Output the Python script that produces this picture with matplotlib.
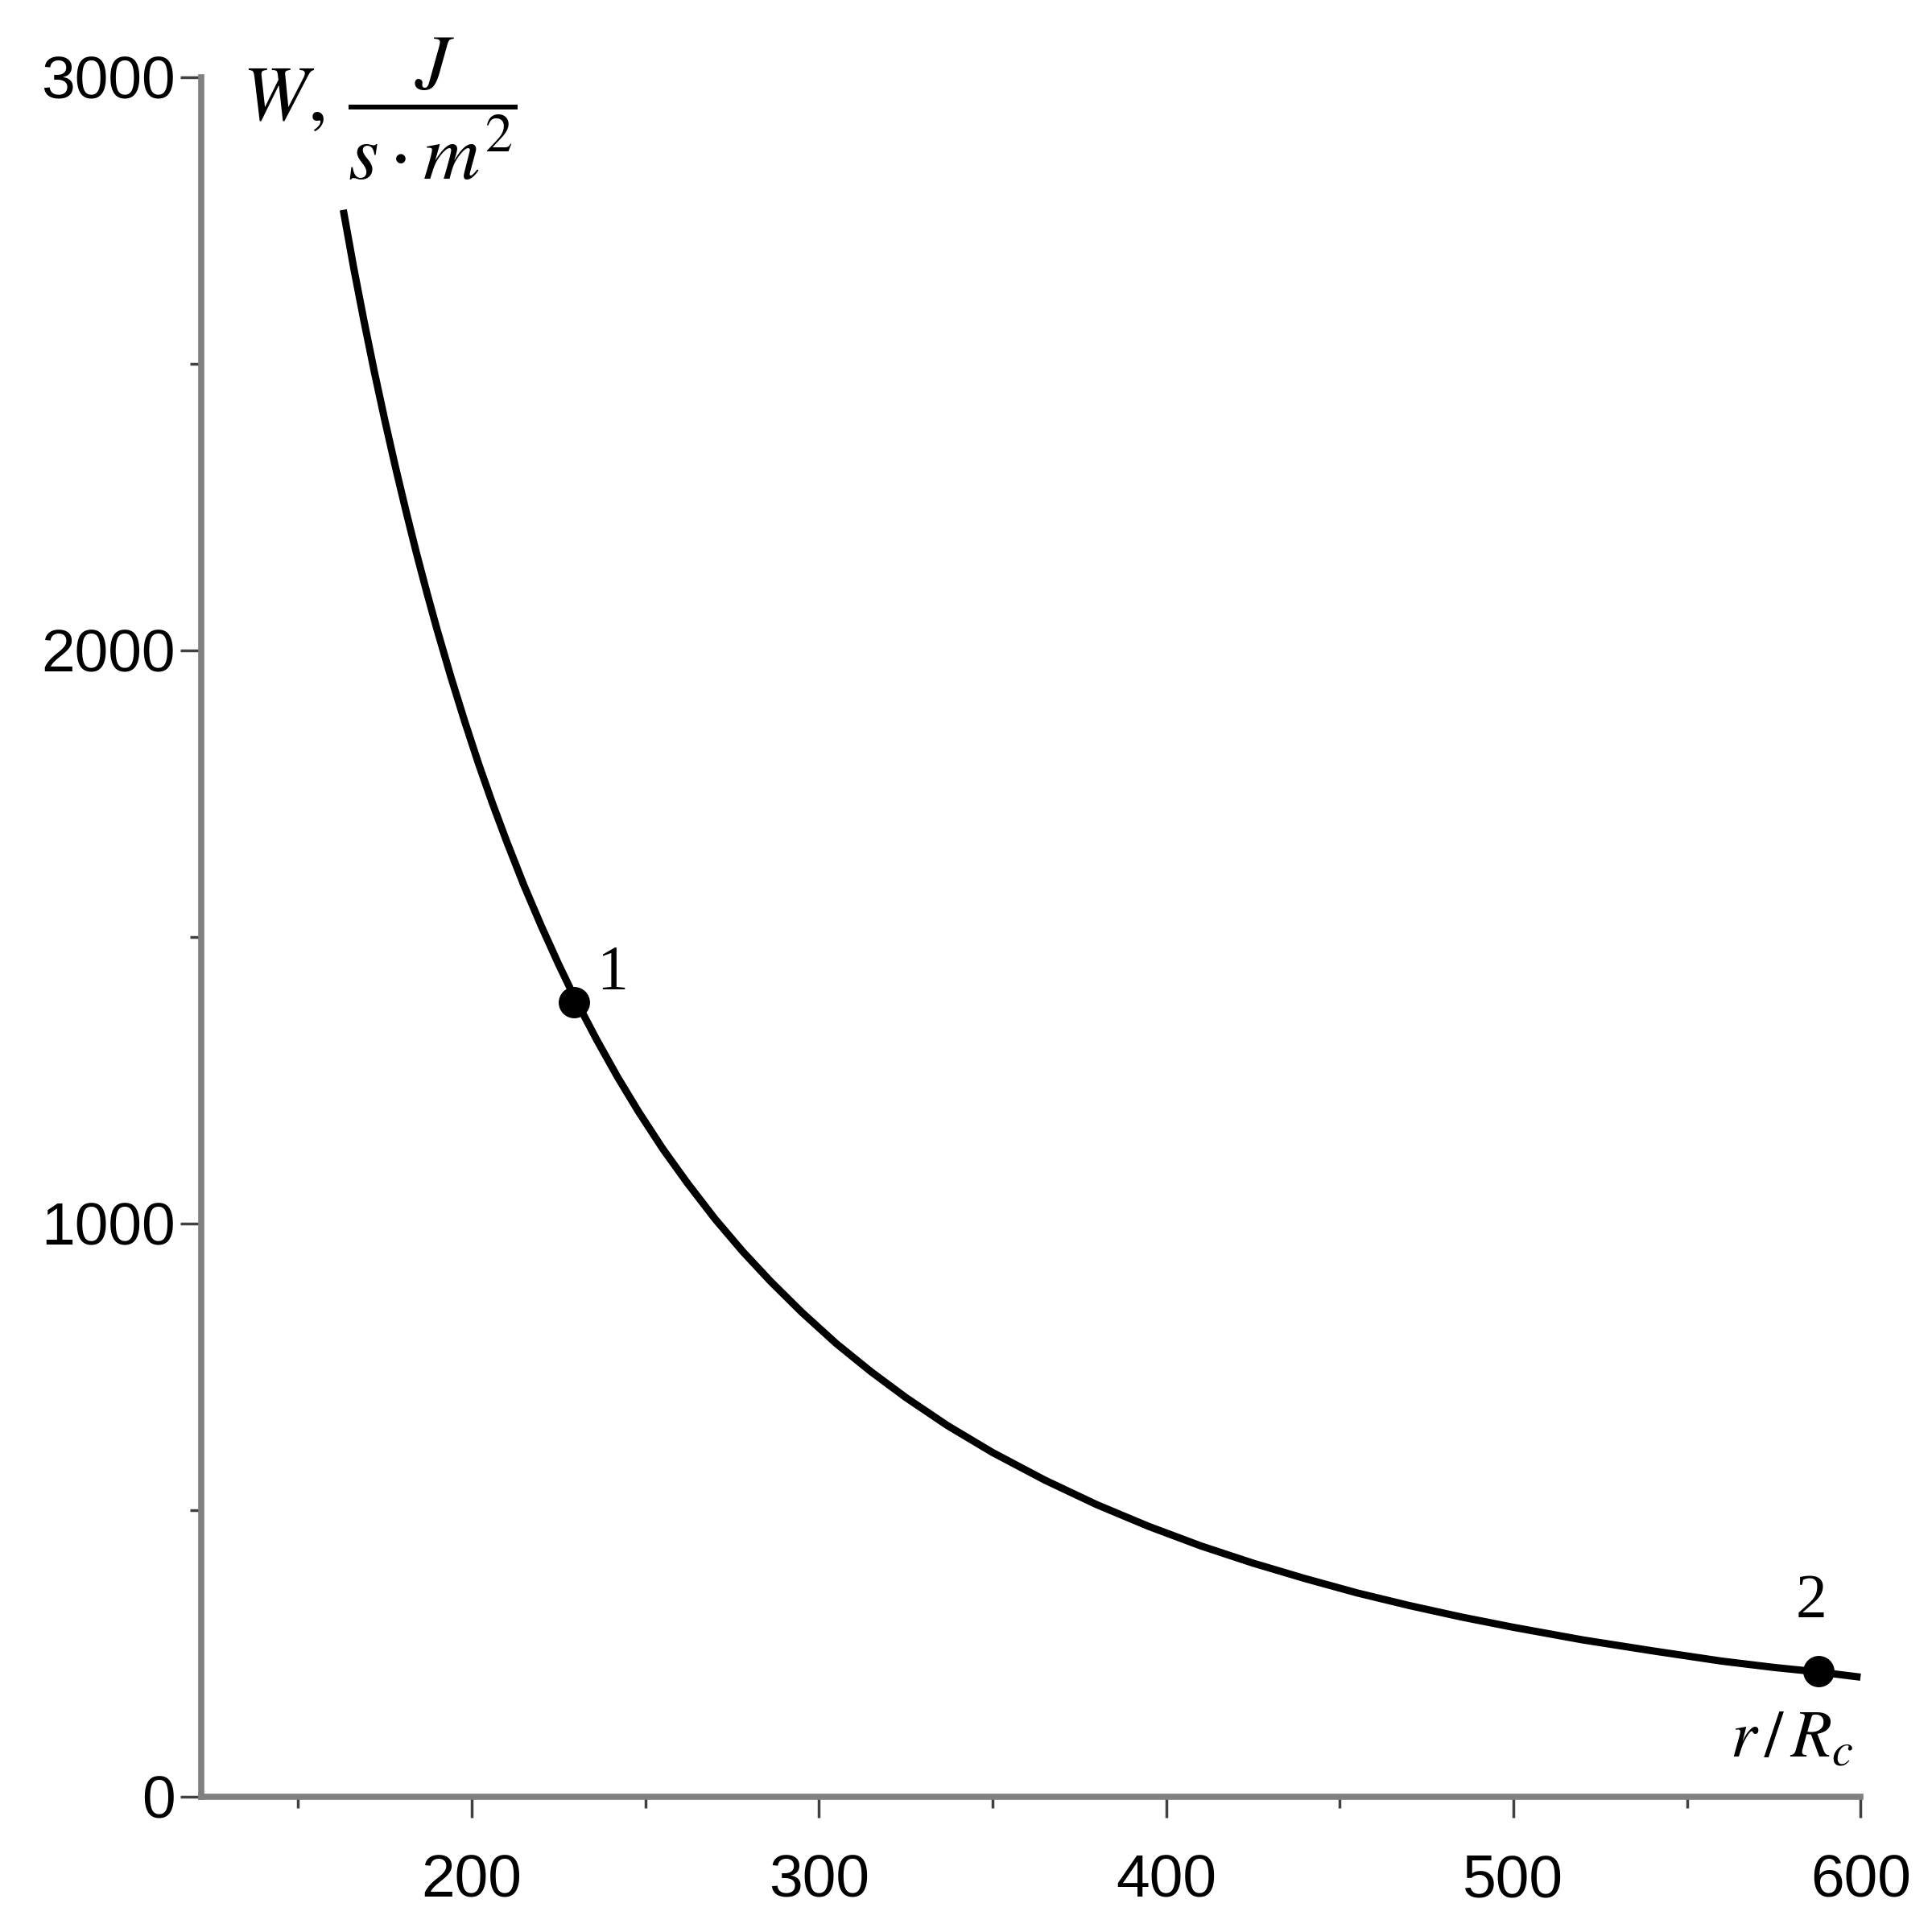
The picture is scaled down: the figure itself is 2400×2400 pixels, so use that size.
import matplotlib
matplotlib.use("Agg")
import matplotlib.pyplot as plt
from matplotlib.ticker import MultipleLocator

# values: r/Rc and W in J/(s*m^2)
r_values = [163, 166, 169, 172, 175, 178, 181, 184, 187, 190, 194, 198, 202, 206, 210,
            215, 220, 225, 230, 236, 242, 248, 255, 262, 270, 278, 286, 295, 305, 315,
            325, 337, 350, 365, 380, 395, 410, 425, 440, 455, 470, 485, 500, 520, 540,
            560, 575, 588, 600]
w_values = [2768, 2667, 2573, 2484, 2400, 2320, 2244, 2171, 2102, 2036, 1953, 1875, 1801, 1732, 1667,
            1590, 1519, 1452, 1389, 1320, 1255, 1195, 1130, 1071, 1008, 951, 899, 845, 790, 741,
            696, 647, 600, 552, 509, 471, 437, 407, 380, 355, 333, 313, 295, 273, 254,
            236, 225, 217, 208]

# marked points
point_r = [229.5, 588]
point_w = [1385, 218]
point_names = ["1", "2"]

plt.rcParams.update({"mathtext.fontset": "stix", "font.family": "Liberation Sans"})

fig = plt.figure(figsize=(24, 24), dpi=100)
ax = fig.add_axes([0.104, 0.0702, 0.859, 0.890])

ax.plot(r_values, w_values, color="black", linewidth=6.5, solid_capstyle="butt",
        solid_joinstyle="round", clip_on=False)
ax.plot(point_r, point_w, "o", color="black", markersize=27, clip_on=False)

# point labels
ax.text(240.5, 1436, point_names[0], fontsize=56, family="Liberation Serif", ha="center", va="center")
ax.text(585.7, 339, point_names[1], fontsize=56, family="Liberation Serif", ha="center", va="center")

# axis labels placed like in the reference
ax.text(134, 2944, r"$W,\,\dfrac{J}{s\cdot m^2}$", fontsize=70, ha="left", va="center", clip_on=False)
ax.text(598, 100, r"$r\,/\,R_c$", fontsize=60, ha="right", va="center")

ax.set_xlim(122, 600)
ax.set_ylim(0, 3000)

for side in ["top", "right"]:
    ax.spines[side].set_visible(False)
for side in ["left", "bottom"]:
    ax.spines[side].set_color("#808080")
    ax.spines[side].set_linewidth(5.5)
    ax.spines[side].set_capstyle("projecting")

ax.xaxis.set_major_locator(MultipleLocator(100))
ax.xaxis.set_minor_locator(MultipleLocator(50))
ax.yaxis.set_major_locator(MultipleLocator(1000))
ax.yaxis.set_minor_locator(MultipleLocator(500))

ax.tick_params(axis="both", which="major", length=19, width=2.5, color="#404040",
               labelsize=54, direction="out")
ax.tick_params(axis="both", which="minor", length=10, width=2.5, color="#404040", direction="out")
ax.tick_params(axis="x", which="major", pad=32)
ax.tick_params(axis="y", which="major", pad=4)

plt.savefig("out.png", dpi=100)
